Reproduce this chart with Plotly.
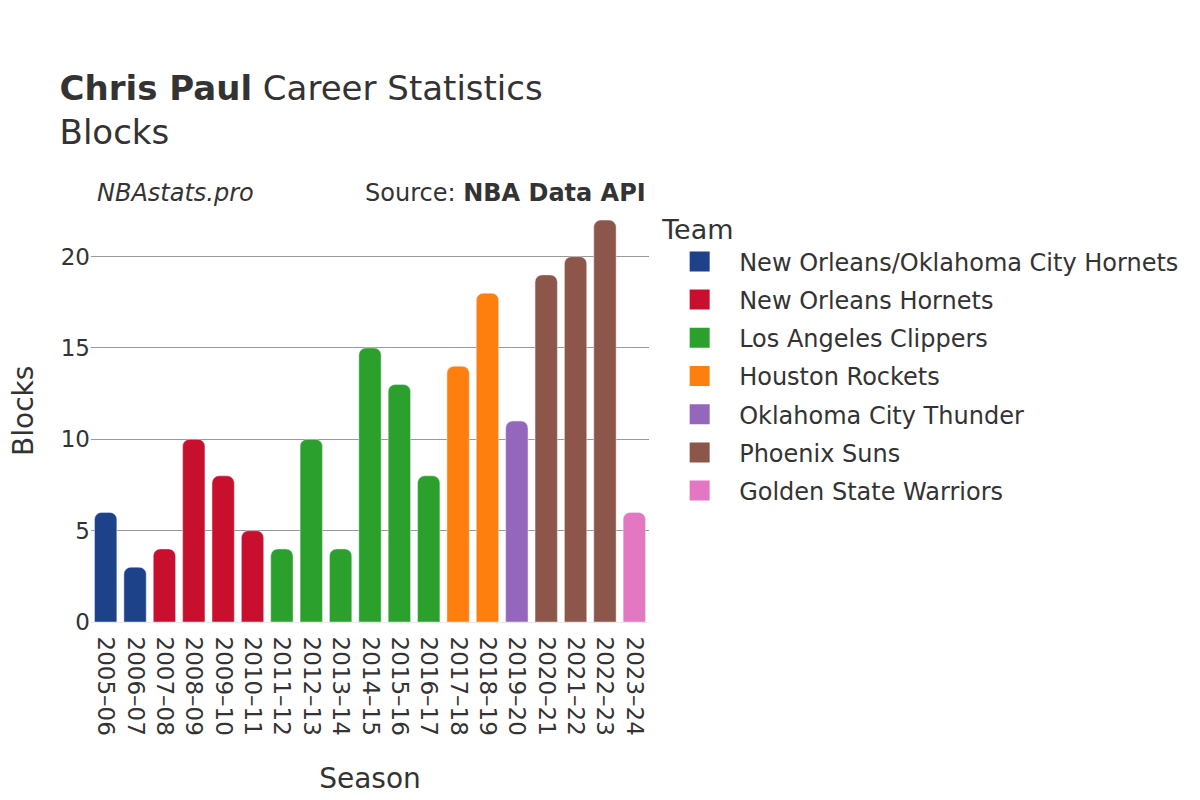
import plotly.graph_objects as go

seasons = ["2005–06", "2006–07", "2007–08", "2008–09", "2009–10", "2010–11",
           "2011–12", "2012–13", "2013–14", "2014–15", "2015–16", "2016–17",
           "2017–18", "2018–19", "2019–20", "2020–21", "2021–22", "2022–23",
           "2023–24"]
teams = ["New Orleans/Oklahoma City Hornets", "New Orleans/Oklahoma City Hornets",
         "New Orleans Hornets", "New Orleans Hornets", "New Orleans Hornets",
         "New Orleans Hornets", "Los Angeles Clippers", "Los Angeles Clippers",
         "Los Angeles Clippers", "Los Angeles Clippers", "Los Angeles Clippers",
         "Los Angeles Clippers", "Houston Rockets", "Houston Rockets",
         "Oklahoma City Thunder", "Phoenix Suns", "Phoenix Suns", "Phoenix Suns",
         "Golden State Warriors"]
blocks = [6, 3, 4, 10, 8, 5, 4, 10, 4, 15, 13, 8, 14, 18, 11, 19, 20, 22, 6]

team_colors = {
    "New Orleans/Oklahoma City Hornets": "#1d428a",
    "New Orleans Hornets": "#c8102e",
    "Los Angeles Clippers": "#2ca02c",
    "Houston Rockets": "#ff7f0e",
    "Oklahoma City Thunder": "#9467bd",
    "Phoenix Suns": "#8c564b",
    "Golden State Warriors": "#e377c2",
}

fig = go.Figure()
for team, color in team_colors.items():
    xs = [s for s, t in zip(seasons, teams) if t == team]
    ys = [b for b, t in zip(blocks, teams) if t == team]
    fig.add_trace(go.Bar(x=xs, y=ys, name=team, marker_color=color,
                         legendgroup=team, showlegend=False))
    # legend entry with a bigger square symbol
    fig.add_trace(go.Scatter(x=[None], y=[None], mode="markers", name=team,
                             legendgroup=team,
                             marker=dict(symbol="square", size=16, color=color,
                                         line=dict(color=color, width=4))))

font = "DejaVu Sans"
fig.update_layout(
    width=1200, height=800,
    font=dict(family=font, color="#333333", size=23),
    plot_bgcolor="white", paper_bgcolor="white",
    barcornerradius=7,
    bargap=0.24,
    margin=dict(l=83, r=559, t=192, b=186, autoexpand=False),
    title=dict(
        text="<b>Chris Paul</b> Career Statistics<br>Blocks",
        x=0.043, xanchor="left", y=0.885, yanchor="top",
        font=dict(size=34, color="#333333"),
    ),
    legend=dict(
        title=dict(text="Team", font=dict(size=27)),
        x=1.02, xanchor="left", y=0.99, yanchor="top",
        font=dict(size=24),
        itemwidth=69,
        tracegroupgap=4,
    ),
    xaxis=dict(
        title=dict(text="Season", font=dict(size=28), standoff=33),
        categoryorder="array", categoryarray=seasons,
        tickangle=90, showline=True, linecolor="#e8e8e8",
        tickfont=dict(size=23), ticklabelstandoff=9,
    ),
    yaxis=dict(
        range=[0, 23.1], dtick=5, gridcolor="#999999",
        zeroline=False,
    ),
    annotations=[
        dict(text="Blocks", xref="paper", yref="paper",
             x=-0.122, y=0.5, xanchor="center", yanchor="middle",
             textangle=-90, showarrow=False, font=dict(size=28)),
        dict(text="<i>NBAstats.pro</i>", xref="paper", yref="paper",
             x=0.0075, y=1.016, xanchor="left", yanchor="middle",
             showarrow=False, font=dict(size=24)),
        dict(text="Source: <b>NBA Data API</b>", xref="paper", yref="paper",
             x=0.998, y=1.016, xanchor="right", yanchor="middle",
             showarrow=False, font=dict(size=24)),
    ],
)

fig.write_html("out.html")
